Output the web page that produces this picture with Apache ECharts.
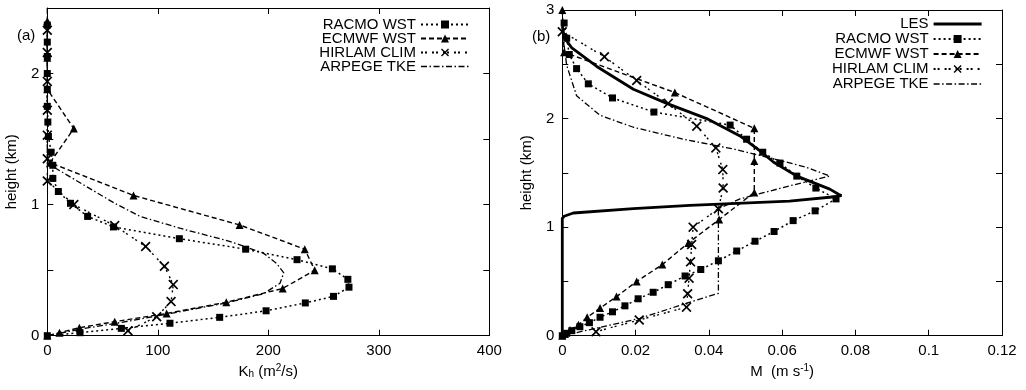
<!DOCTYPE html>
<html>
<head>
<meta charset="utf-8">
<script src="https://cdn.jsdelivr.net/npm/echarts@6/dist/echarts.min.js"></script>
<style>
html,body{margin:0;padding:0;background:#fff;}
#chart{width:1026px;height:390px;}
</style>
</head>
<body>
<div id="chart"></div>
<script>
// ---------- DATA ----------
// Panel (a): K_h (m2/s) vs height (km)
const racmoA_z  = [2.37,2.24,2.13,2.0,1.88,1.75,1.63,1.52,1.40,1.30,1.20,1.10,1.01,0.91,0.83,0.74,0.66,0.58,0.51,0.43,0.37,0.30,0.25,0.19,0.14,0.095,0.056,0.023,0];
const racmoA_kh = [0,0,0,0,0,0,0.5,1,3.5,5,5,10,21,36.5,60,119.5,179.5,226,258,272,273,259,233.5,198,156,111,67,29.6,0];

const ecmwfA_z  = [2.40,2.12,1.88,1.58,1.32,1.07,0.845,0.66,0.50,0.36,0.255,0.17,0.107,0.061,0.023,0];
const ecmwfA_kh = [0,0,0,24,2.5,78,174,233,242,213,162,108,61,29,11,0];

const hirlamA_z  = [2.33,2.16,1.94,1.72,1.53,1.35,1.18,1.0,0.84,0.68,0.53,0.39,0.26,0.145,0.038];
const hirlamA_kh = [0,0,0,0,0,0,0,24,61,89,106,114,112,99,73];

const arpegeA_z  = [2.5,1.35,1.29,1.15,1.01,0.91,0.82,0.72,0.63,0.55,0.48,0.40,0.32,0.25,0.18,0.10,0.05,0];
const arpegeA_kh = [0,0,5,33,61,84,120,165,195.5,207.6,214,210.6,195.5,162,118,66,30,0];

// Panel (b): M (m/s) vs height (km)
const lesB_z = [2.85,2.75,2.65,2.48,2.27,2.14,2.0,1.84,1.69,1.60,1.47,1.35,1.30,1.29,1.28,1.24,1.20,1.17,1.13,1.10,1.08,0];
const lesB_m = [0,0.0005,0.0026,0.0094,0.0194,0.0285,0.0394,0.0485,0.0544,0.0576,0.064,0.073,0.0755,0.0762,0.0744,0.062,0.0348,0.0194,0.003,0.0005,0,0];

const racmoB_z = [2.88,2.74,2.59,2.46,2.32,2.19,2.06,1.94,1.81,1.69,1.59,1.47,1.36,1.26,1.15,1.06,0.96,0.87,0.78,0.69,0.61,0.55,0.47,0.40,0.34,0.275,0.22,0.17,0.12,0.083,0.046,0.022,0];
const racmoB_m = [0.0005,0.0012,0.0019,0.0039,0.0071,0.0137,0.025,0.0458,0.0503,0.0547,0.0594,0.064,0.0692,0.0747,0.069,0.063,0.0578,0.0526,0.0476,0.0426,0.0378,0.0335,0.0289,0.0248,0.0207,0.0171,0.0137,0.0103,0.0074,0.0048,0.0026,0.0012,0];

const ecmwfB_z = [3.0,2.61,2.24,1.91,1.61,1.32,1.07,0.855,0.655,0.50,0.36,0.254,0.17,0.10,0.053,0.016,0];
const ecmwfB_m = [0,0.0005,0.0307,0.0524,0.0524,0.0524,0.0428,0.0344,0.0273,0.0203,0.0148,0.0103,0.0068,0.0044,0.0021,0.0007,0];

const hirlamB_z = [2.80,2.57,2.35,2.14,1.93,1.73,1.53,1.36,1.17,1.0,0.84,0.68,0.53,0.386,0.263,0.145,0.037];
const hirlamB_m = [0,0.0115,0.0203,0.0289,0.0367,0.0419,0.0438,0.0439,0.0426,0.0357,0.0353,0.035,0.0346,0.0342,0.0339,0.021,0.0092];

const arpegeB_z = [2.9,2.75,2.49,2.21,2.03,1.92,1.81,1.72,1.63,1.55,1.47,1.38,1.26,1.17,0.39,0.30,0.16,0.07,0];
const arpegeB_m = [0,0.0002,0.0012,0.0039,0.0103,0.0194,0.033,0.0467,0.0576,0.0667,0.073,0.062,0.0485,0.0426,0.0426,0.034,0.0212,0.0094,0];

const legendA = ['RACMO WST','ECMWF WST','HIRLAM CLIM','ARPEGE TKE'];
const legendB = ['LES','RACMO WST','ECMWF WST','HIRLAM CLIM','ARPEGE TKE'];

// ---------- CHART ----------
const FONT = "'Liberation Sans', Arial, Helvetica, sans-serif";
const FS = 15;
const zip = (xs, ys) => xs.map((x, i) => [x, ys[i]]);
const XSYM = 'path://M0,1.2L1.2,0L5,3.8L8.8,0L10,1.2L6.2,5L10,8.8L8.8,10L5,6.2L1.2,10L0,8.8L3.8,5Z';

const styles = {
  'RACMO WST':   {symbol: 'rect', symbolSize: 7, lineStyle: {type: [2, 3], width: 1.5}},
  'ECMWF WST':   {symbol: 'triangle', symbolSize: 8, lineStyle: {type: [5, 3], width: 1.4}},
  'HIRLAM CLIM': {symbol: XSYM, symbolSize: 10, lineStyle: {type: [2, 2, 2, 5], width: 1.4}},
  'ARPEGE TKE':  {symbol: 'none', lineStyle: {type: [6, 2.5, 1.5, 2.5], width: 1.3}},
  'LES':         {symbol: 'none', lineStyle: {type: 'solid', width: 2.8}}
};

function mkSeries(name, data, gi) {
  const s = styles[name];
  return {
    type: 'line', name: name, data: data,
    xAxisIndex: gi * 2, yAxisIndex: gi * 2,
    symbol: s.symbol, symbolSize: s.symbolSize || 0, showSymbol: s.symbol !== 'none',
    lineStyle: Object.assign({color: '#000'}, s.lineStyle),
    itemStyle: {color: '#000'},
    animation: false, silent: true, clip: true
  };
}

function legendItems(names) {
  return names.map(n => styles[n].symbol === 'none'
    ? {name: n, itemStyle: {opacity: 0, color: 'rgba(0,0,0,0)', borderWidth: 0},
       lineStyle: {width: styles[n].lineStyle.width, color: '#000'}}
    : {name: n});
}

const lblStyle = {color: '#000', fontFamily: FONT, fontSize: FS};

function xAxes(gi, min, max, interval, name) {
  const base = {
    type: 'value', gridIndex: gi, min: min, max: max, interval: interval,
    axisLine: {show: true, onZero: false, lineStyle: {color: '#000', width: 1}},
    axisTick: {show: true, inside: true, length: 6, lineStyle: {color: '#000', width: 1}},
    splitLine: {show: false}
  };
  return [
    Object.assign({}, base, {
      position: 'bottom',
      axisLabel: Object.assign({margin: 8}, lblStyle),
      name: name, nameLocation: 'middle', nameGap: 22,
      nameTextStyle: {color: '#000', fontFamily: FONT, fontSize: FS,
        rich: {
          sub: {fontFamily: FONT, fontSize: 10, color: '#000', verticalAlign: 'bottom', padding: [6, 0, 0, 0]},
          sup: {fontFamily: FONT, fontSize: 10, color: '#000', verticalAlign: 'top', padding: [0, 0, 6, 0]}
        }}
    }),
    Object.assign({}, base, {position: 'top', axisLabel: {show: false}})
  ];
}

function yAxes(gi, min, max, interval) {
  const base = {
    type: 'value', gridIndex: gi, min: min, max: max, interval: interval,
    axisLine: {show: true, onZero: false, lineStyle: {color: '#000', width: 1}},
    axisTick: {show: true, inside: true, length: 6, lineStyle: {color: '#000', width: 1}},
    splitLine: {show: false}
  };
  return [
    Object.assign({}, base, {
      position: 'left',
      axisLabel: Object.assign({margin: 8,
        formatter: v => (Math.abs(v - Math.round(v)) < 1e-6 ? String(Math.round(v)) : '')}, lblStyle),
      name: 'height (km)', nameLocation: 'middle', nameGap: 28, nameRotate: 90,
      nameTextStyle: {color: '#000', fontFamily: FONT, fontSize: FS}
    }),
    Object.assign({}, base, {position: 'right', axisLabel: {show: false}})
  ];
}

const legendCommon = {
  orient: 'vertical', align: 'right', padding: 0,
  itemWidth: 48, itemHeight: 10, selectedMode: false,
  textStyle: {color: '#000', fontFamily: FONT, fontSize: FS}
};

const option = {
  backgroundColor: '#fff',
  animation: false,
  grid: [
    {left: 47.3, right: 536.7, top: 8, bottom: 54.3},
    {left: 562.3, right: 24, top: 10, bottom: 54.3}
  ],
  xAxis: [].concat(
    xAxes(0, 0, 400, 100, 'K{sub|h} (m{sup|2}/s)'),
    xAxes(1, 0, 0.12, 0.02, 'M  (m s{sup|-1})')
  ),
  yAxis: [].concat(
    yAxes(0, 0, 2.5, 0.5),
    yAxes(1, 0, 3, 0.5)
  ),
  legend: [
    Object.assign({}, legendCommon, {data: legendItems(legendA), right: 556, top: 17, itemGap: -1}),
    Object.assign({}, legendCommon, {data: legendItems(legendB), right: 43, top: 16.5, itemGap: 0})
  ],
  graphic: [
    {type: 'text', left: 17, top: 28, style: {text: '(a)', fill: '#000', font: FS + "px " + FONT}},
    {type: 'text', left: 532, top: 29, style: {text: '(b)', fill: '#000', font: FS + "px " + FONT}}
  ],
  series: [
    mkSeries('RACMO WST', zip(racmoA_kh, racmoA_z), 0),
    mkSeries('ECMWF WST', zip(ecmwfA_kh, ecmwfA_z), 0),
    mkSeries('HIRLAM CLIM', zip(hirlamA_kh, hirlamA_z), 0),
    mkSeries('ARPEGE TKE', zip(arpegeA_kh, arpegeA_z), 0),
    mkSeries('LES', zip(lesB_m, lesB_z), 1),
    mkSeries('RACMO WST', zip(racmoB_m, racmoB_z), 1),
    mkSeries('ECMWF WST', zip(ecmwfB_m, ecmwfB_z), 1),
    mkSeries('HIRLAM CLIM', zip(hirlamB_m, hirlamB_z), 1),
    mkSeries('ARPEGE TKE', zip(arpegeB_m, arpegeB_z), 1)
  ]
};

const chart = echarts.init(document.getElementById('chart'), null, {renderer: 'canvas'});
chart.setOption(option);
</script>
</body>
</html>
